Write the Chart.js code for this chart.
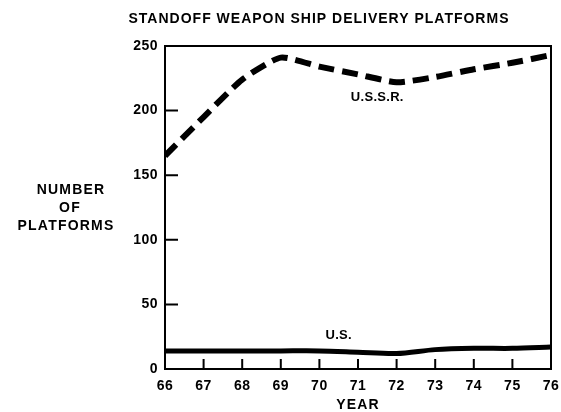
<!DOCTYPE html>
<html>
<head>
<meta charset="utf-8">
<script src="https://cdn.jsdelivr.net/npm/chart.js@4/dist/chart.umd.min.js"></script>
<style>
  html, body { margin: 0; padding: 0; background: #fff; }
  #wrap { width: 561px; height: 412px; }
</style>
</head>
<body>
<div id="wrap"><canvas id="c" width="561" height="412"></canvas></div>
<script>
// Standoff weapon ship delivery platforms, 1966-1976
const years = [66, 67, 68, 69, 70, 71, 72, 73, 74, 75, 76];
const ussr  = [165, 195, 224, 241, 234, 228, 222, 226, 232, 237, 243];
const us    = [14, 14, 14, 14, 14, 13, 12, 15, 16, 16, 17];
const yTicks = [0, 50, 100, 150, 200, 250];

const FONT = '"Liberation Sans", Arial, sans-serif';

const toPoints = (vals) => years.map((x, i) => ({ x, y: vals[i] }));

const spacing = {
  id: 'spacing',
  beforeDraw(chart) { chart.ctx.letterSpacing = '0.5px'; }
};

const decor = {
  id: 'decor',
  afterDraw(chart) {
    const { ctx, chartArea: a, scales: { x, y } } = chart;
    ctx.save();
    // frame
    ctx.strokeStyle = '#000';
    ctx.lineWidth = 2;
    ctx.strokeRect(a.left, a.top, a.right - a.left, a.bottom - a.top);
    // inward tick marks
    ctx.beginPath();
    years.slice(1, -1).forEach(v => {
      const px = x.getPixelForValue(v);
      ctx.moveTo(px, a.bottom);
      ctx.lineTo(px, a.bottom - 10);
    });
    yTicks.slice(1, -1).forEach(v => {
      const py = y.getPixelForValue(v);
      ctx.moveTo(a.left, py);
      ctx.lineTo(a.left + 13, py);
    });
    ctx.stroke();

    ctx.fillStyle = '#000';
    ctx.textAlign = 'center';
    ctx.textBaseline = 'middle';
    // title
    ctx.letterSpacing = '1px';
    ctx.font = 'bold 14px ' + FONT;
    ctx.fillText('STANDOFF WEAPON SHIP DELIVERY PLATFORMS', 319, 19);
    // axis titles
    ctx.letterSpacing = '1.2px';
    ctx.fillText('NUMBER', 71, 190);
    ctx.fillText('OF', 70, 208);
    ctx.fillText('PLATFORMS', 66, 226);
    ctx.fillText('YEAR', 358, 405);
    // series labels
    ctx.letterSpacing = '0.3px';
    ctx.font = 'bold 13px ' + FONT;
    ctx.fillText('U.S.S.R.', x.getPixelForValue(71.5), y.getPixelForValue(210));
    ctx.fillText('U.S.', x.getPixelForValue(70.5), y.getPixelForValue(26));
    ctx.restore();
  }
};

new Chart(document.getElementById('c'), {
  type: 'line',
  data: {
    datasets: [
      {
        label: 'U.S.S.R.',
        data: toPoints(ussr),
        borderColor: '#000',
        borderWidth: 6,
        borderDash: [16, 8],
        borderCapStyle: 'butt',
        tension: 0.2,
        pointRadius: 0,
        fill: false
      },
      {
        label: 'U.S.',
        data: toPoints(us),
        borderColor: '#000',
        borderWidth: 5,
        tension: 0.3,
        pointRadius: 0,
        fill: false
      }
    ]
  },
  options: {
    responsive: false,
    animation: false,
    devicePixelRatio: 1,
    layout: { padding: { left: 0, right: 10, top: 46, bottom: 0 } },
    plugins: { legend: { display: false }, tooltip: { enabled: false }, title: { display: false } },
    scales: {
      x: {
        type: 'linear',
        min: 66, max: 76,
        afterBuildTicks: s => { s.ticks = years.map(v => ({ value: v })); },
        afterFit: s => { s.height = 43; s.paddingLeft = 0; s.paddingRight = 0; },
        grid: { display: false, drawTicks: false },
        border: { display: false },
        ticks: {
          color: '#000',
          padding: 9,
          maxRotation: 0,
          autoSkip: false,
          font: { family: FONT, size: 14, weight: 'bold' }
        }
      },
      y: {
        min: 0, max: 250,
        afterBuildTicks: s => { s.ticks = yTicks.map(v => ({ value: v })); },
        afterFit: s => { s.width = 165; s.paddingTop = 0; s.paddingBottom = 0; },
        grid: { display: false, drawTicks: false },
        border: { display: false },
        ticks: {
          color: '#000',
          padding: 7,
          font: { family: FONT, size: 14, weight: 'bold' }
        }
      }
    }
  },
  plugins: [spacing, decor]
});
</script>
</body>
</html>
